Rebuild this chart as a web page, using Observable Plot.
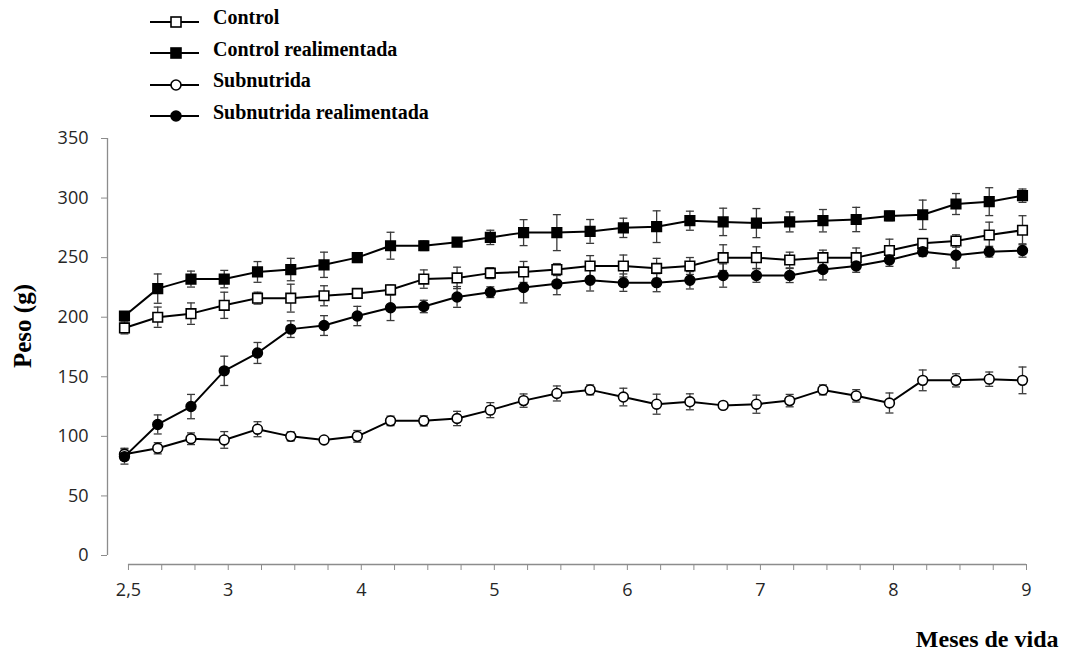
<!DOCTYPE html>
<html>
<head>
<meta charset="utf-8">
<script src="https://cdn.jsdelivr.net/npm/d3@7"></script>
<script src="https://cdn.jsdelivr.net/npm/@observablehq/plot@0.6"></script>
<style>
  body { margin: 0; background: #fff; width: 1065px; height: 655px; overflow: hidden; position: relative; }
  #legend { position: absolute; left: 150px; top: 2px; font-family: "Liberation Serif", "Times New Roman", serif; font-weight: bold; font-size: 20px; color: #000; }
  .item { height: 31.5px; display: flex; align-items: center; white-space: nowrap; }
  .item svg { margin-right: 13px; }
  #chart { position: absolute; left: 0; top: 125px; }
</style>
</head>
<body>
<div id="legend"></div>
<div id="chart"></div>
<script>
// Weekly weighings (index along the x axis) and the month labels shown under some of them
const semana = d3.range(28);
const tickIndex = [0, 3, 7, 11, 15, 19, 23, 27];
const tickLabels = ["2,5", "3", "4", "5", "6", "7", "8", "9"];
const yTicks = [0, 50, 100, 150, 200, 250, 300, 350];

const series = ["Control", "Control realimentada", "Subnutrida", "Subnutrida realimentada"];

// Mean body weight (g) and standard deviation per weighing
const control = [191, 200, 203, 210, 216, 216, 218, 220, 223, 232, 233, 237, 238, 240, 243, 243, 241, 243, 250, 250, 248, 250, 250, 256, 262, 264, 269, 273];
const controlSD = [5, 8.5, 9, 11, 5, 11.7, 8.4, 3, 4, 7.7, 9, 4.6, 8.8, 5, 8.7, 9.2, 8.4, 7.1, 10.8, 9.1, 6.6, 6.3, 8.1, 9.5, 4, 5.2, 10.8, 12.2];

const controlReal = [201, 224, 232, 232, 238, 240, 244, 250, 260, 260, 263, 267, 271, 271, 272, 275, 276, 281, 280, 279, 280, 281, 282, 285, 286, 295, 297, 302];
const controlRealSD = [3, 12.3, 6.7, 7.3, 8.7, 9.4, 10.6, 4, 11.3, 4, 3, 6, 10.9, 15.1, 10, 8.1, 13.3, 8, 11.5, 12.2, 8.4, 9.4, 10.2, 4, 12.3, 8.8, 11.7, 5.6];

const subnutrida = [85, 90, 98, 97, 106, 100, 97, 100, 113, 113, 115, 122, 130, 136, 139, 133, 127, 129, 126, 127, 130, 139, 134, 128, 147, 147, 148, 147];
const subnutridaSD = [5, 4.7, 4.9, 7, 6.3, 3.8, 2, 4.9, 4, 4.2, 6, 6.3, 5.6, 6.3, 4.2, 7.4, 8.4, 6.7, 2, 7.6, 5.2, 4.2, 5.2, 8.4, 8.7, 5.5, 6, 11.2];

const subReal = [83, 110, 125, 155, 170, 190, 193, 201, 208, 209, 217, 221, 225, 228, 231, 229, 229, 231, 235, 235, 235, 240, 243, 248, 255, 252, 255, 256];
const subRealSD = [6.3, 8, 10.2, 12.3, 8.8, 7, 8.3, 8.1, 10.8, 5.2, 8.7, 4.5, 13, 9.1, 9, 7.3, 7.6, 7.3, 9.8, 5.7, 5.9, 8.7, 5.3, 5.3, 4, 10.8, 4.5, 5.6];

// Marker style per series
const styles = [
  {symbol: "square", fill: "white", r: 5.4},
  {symbol: "square", fill: "black", r: 5.4},
  {symbol: "circle", fill: "white", r: 4.9},
  {symbol: "circle", fill: "black", r: 4.9}
];

const values = [control, controlReal, subnutrida, subReal];
const sds = [controlSD, controlRealSD, subnutridaSD, subRealSD];
const rows = series.map((s, k) => semana.map(i => ({serie: s, i, v: values[k][i], sd: sds[k][i]})));
const allRows = rows.flat();

// Horizontal cap for the error bars
const cap = {draw(context, size) { const w = 4; context.moveTo(-w, 0); context.lineTo(w, 0); }};

const xStart = -0.51;
const axisGray = "#8c8c8c";
const textColor = "#262626";
const labelMap = new Map(tickIndex.map((t, k) => [t, tickLabels[k]]));

const chart = Plot.plot({
  width: 1065,
  height: 530,
  marginLeft: 107,
  marginRight: 43,
  marginTop: 13,
  marginBottom: 100,
  x: {domain: [xStart, 27], axis: null},
  y: {domain: [0, 350], axis: null},
  style: {fontFamily: "'Open Sans', sans-serif", fontSize: "18px", background: "white", overflow: "visible"},
  marks: [
    // y axis
    Plot.ruleX([xStart], {y1: 0, y2: 350, stroke: axisGray, strokeWidth: 1.3}),
    Plot.axisY({ticks: yTicks, tickSize: 6, tickPadding: 13, stroke: axisGray, fill: textColor, label: null,
                tickFormat: d => String(d)}),
    // x axis, drawn slightly below the zero line
    Plot.ruleY([0], {x1: 0, x2: 27, dx: 4, dy: 9, stroke: axisGray, strokeWidth: 1.3}),
    Plot.axisX({ticks: semana, tickSize: 6, tickPadding: 13, dx: 4, dy: 9, stroke: axisGray, fill: textColor, label: null,
                tickFormat: i => labelMap.get(i) ?? ""}),
    // error bars
    Plot.ruleX(allRows, {x: "i", y1: d => d.v - d.sd, y2: d => d.v + d.sd, stroke: "#3a3a3a", strokeWidth: 1.3}),
    Plot.dot(allRows, {x: "i", y: d => d.v + d.sd, symbol: cap, r: 4, stroke: "#3a3a3a", strokeWidth: 1.3}),
    Plot.dot(allRows, {x: "i", y: d => d.v - d.sd, symbol: cap, r: 4, stroke: "#3a3a3a", strokeWidth: 1.3}),
    // series lines and markers
    ...rows.flatMap((data, k) => [
      Plot.line(data, {x: "i", y: "v", stroke: "black", strokeWidth: 2}),
      Plot.dot(data, {x: "i", y: "v", symbol: styles[k].symbol, r: styles[k].r, fill: styles[k].fill, stroke: "black", strokeWidth: 1.6})
    ]),
    // axis titles
    Plot.text(["Peso (g)"], {frameAnchor: "left", dx: -85, dy: -21, rotate: -90, textAnchor: "middle", text: d => d,
      fontFamily: "'Liberation Serif', serif", fontWeight: "bold", fontSize: 25, fill: "#000"}),
    Plot.text(["Meses de vida"], {frameAnchor: "bottom-right", dx: 36, dy: 91, textAnchor: "end", text: d => d,
      fontFamily: "'Liberation Serif', serif", fontWeight: "bold", fontSize: 24, fill: "#000"})
  ]
});
document.getElementById("chart").append(chart);

// Legend
const legend = d3.select("#legend");
series.forEach((s, k) => {
  const item = legend.append("div").attr("class", "item");
  const svg = item.append("svg").attr("width", 50).attr("height", 16).style("overflow", "visible")
    .style("position", "relative").style("top", "4px");
  svg.append("line").attr("x1", 0).attr("x2", 49).attr("y1", 8).attr("y2", 8).attr("stroke", "black").attr("stroke-width", 2);
  const st = styles[k];
  if (st.symbol === "square") {
    svg.append("rect").attr("x", 21).attr("y", 3).attr("width", 10).attr("height", 10)
      .attr("fill", st.fill).attr("stroke", "black").attr("stroke-width", 1.6);
  } else {
    svg.append("circle").attr("cx", 26).attr("cy", 8).attr("r", 5)
      .attr("fill", st.fill).attr("stroke", "black").attr("stroke-width", 1.6);
  }
  item.append("span").text(s);
});
</script>
</body>
</html>
